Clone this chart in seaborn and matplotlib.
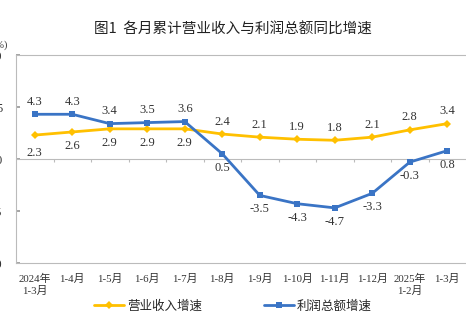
import numpy as np
import pandas as pd
import matplotlib
matplotlib.use("Agg")
import matplotlib.pyplot as plt
import seaborn as sns

categories = ["2024年\n1-3月", "1-4月", "1-5月", "1-6月", "1-7月", "1-8月", "1-9月",
              "1-10月", "1-11月", "1-12月", "2025年\n1-2月", "1-3月"]
revenue = [2.3, 2.6, 2.9, 2.9, 2.9, 2.4, 2.1, 1.9, 1.8, 2.1, 2.8, 3.4]
profit = [4.3, 4.3, 3.4, 3.5, 3.6, 0.5, -3.5, -4.3, -4.7, -3.3, -0.3, 0.8]
rev_label_below = [True, True, True, True, True] + [False] * 7
prof_label_below = [False] * 5 + [True] * 7
series_names = ["营业收入增速", "利润总额增速"]
yticks = [-10, -5, 0, 5, 10]

sns.set_theme(style="white")
plt.rcParams['font.family'] = ['Liberation Serif', 'Noto Sans CJK SC', 'DejaVu Sans']

YEL = "#FFC000"
BLU = "#3A74C5"

df = pd.DataFrame({"x": np.arange(len(categories)), "rev": revenue, "prof": profit})

fig = plt.figure(figsize=(4.66, 3.24), dpi=100)
ax = fig.add_axes([16 / 466, 1 - 263 / 324, 1 - 16 / 466, (263 - 55) / 324])

sns.lineplot(data=df, x="x", y="rev", ax=ax, color=YEL, lw=2, marker="D",
             markersize=4.5, markeredgewidth=0, label=series_names[0], zorder=3)
sns.lineplot(data=df, x="x", y="prof", ax=ax, color=BLU, lw=2, marker="s",
             markersize=4.5, markeredgewidth=0, label=series_names[1], zorder=3)

ax.set_xlim(-0.5, len(categories) - 0.5)
ax.set_ylim(-10, 10)
ax.set_xticks(df["x"])
ax.set_xticklabels(categories, fontsize=7.8, family=['Liberation Serif', 'Noto Sans CJK SC'],
                   linespacing=1.2, color="#333333")
ax.tick_params(axis="x", length=0, pad=8)
ax.set_yticks(yticks)
ax.set_yticklabels([str(v) for v in yticks], fontsize=9, color="#333333")
ax.tick_params(axis="y", direction="in", length=3, color="#999999", pad=10, left=True)
ax.set_xlabel("")
ax.set_ylabel("")

for s in ["left", "top", "bottom"]:
    ax.spines[s].set_color("#BBBBBB")
    ax.spines[s].set_linewidth(0.8)
ax.spines["right"].set_visible(False)

# zero line with category boundary ticks
ax.axhline(0, color="#BBBBBB", lw=0.8, zorder=1)
ax.vlines(np.arange(0.5, len(categories) - 0.5), -0.3, 0, color="#BBBBBB", lw=0.8, zorder=1)

for i, (v, below) in enumerate(zip(revenue, rev_label_below)):
    off = -13 if i == 0 else (-10 if below else 9)
    ax.annotate(f"{v:.1f}", (i, v), xytext=(0, off), textcoords="offset points",
                ha="center", va="center", fontsize=9, color="#333333",
                family="Liberation Serif")
for i, (v, below) in enumerate(zip(profit, prof_label_below)):
    off = -10 if below else 9
    ax.annotate(f"{v:.1f}", (i, v), xytext=(0, off), textcoords="offset points",
                ha="center", va="center", fontsize=9, color="#333333",
                family="Liberation Serif")

fig.text(8 / 466, 1 - 45 / 324, "(%)", ha="right", va="center", fontsize=7.5,
         color="#333333")
fig.text(0.5, 1 - 30 / 324, "图1  各月累计营业收入与利润总额同比增速", ha="center", va="center",
         fontsize=10.5, family=["Noto Sans CJK SC"], color="#222222")

handles, labels = ax.get_legend_handles_labels()
ax.legend_.remove()
fig.legend(handles, labels, loc="center", bbox_to_anchor=(0.5, 1 - 306 / 324), ncol=2,
           frameon=False, prop={"family": "Noto Sans CJK SC", "size": 9},
           handlelength=2.4, handletextpad=0.2, columnspacing=5)

fig.savefig("out.png", dpi=100)
